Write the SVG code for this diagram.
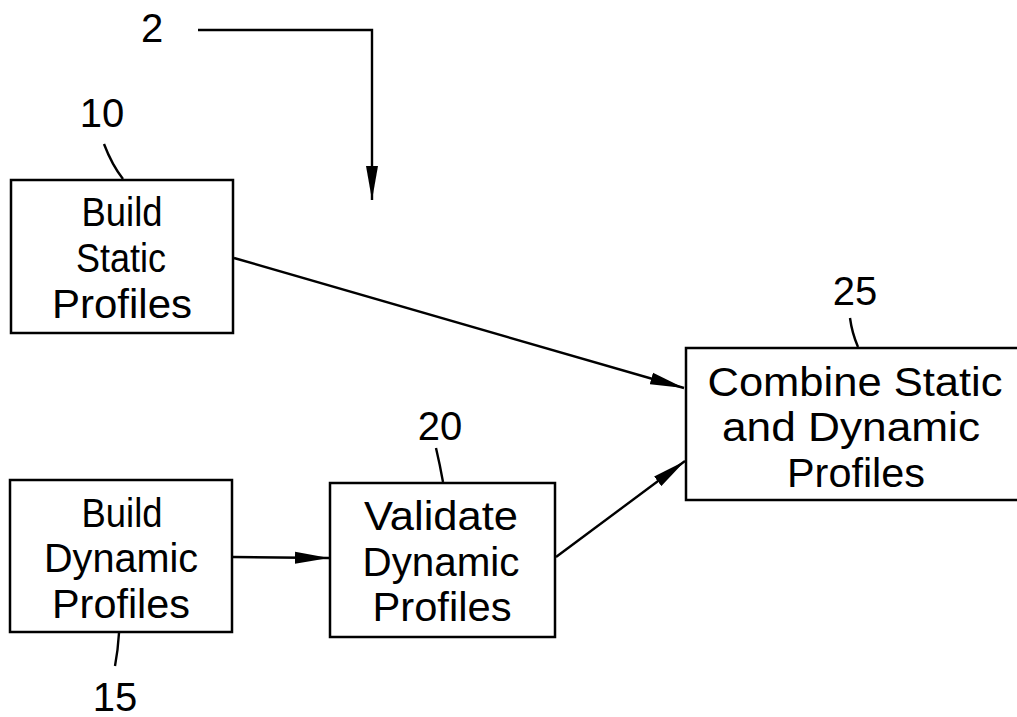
<svg xmlns="http://www.w3.org/2000/svg" width="1017" height="717" viewBox="0 0 1017 717">
<defs>
<style>
.box{fill:#fff;stroke:#000;stroke-width:2.5}
.t{font-family:"Liberation Sans",Arial,sans-serif;font-size:40px;fill:#000;text-anchor:middle}
.ln{fill:none;stroke:#000;stroke-width:2.4}
.ld{fill:none;stroke:#000;stroke-width:2.4}
</style>
<marker id="ah" markerWidth="36" markerHeight="14" refX="34" refY="7" orient="auto" markerUnits="userSpaceOnUse">
<path d="M0,1 L34,7 L0,13 Z" fill="#000"/>
</marker>
</defs>
<rect width="1017" height="717" fill="#fff"/>
<g id="connectors">
<path class="ln" d="M198,30 H372 V200" marker-end="url(#ah)"/>
<path class="ln" d="M234,258 L684,388" marker-end="url(#ah)"/>
<path class="ln" d="M233,557 L329,558" marker-end="url(#ah)"/>
<path class="ln" d="M556,557 L685,461" marker-end="url(#ah)"/>
</g>
<g id="label2"><text class="t" x="152" y="42">2</text></g>
<g id="n10">
<text class="t" x="102" y="127">10</text>
<path class="ld" d="M104,144 Q112,165 123,179"/>
<rect class="box" x="11" y="180" width="222" height="153"/>
<text class="t" x="122" y="226" textLength="81" lengthAdjust="spacingAndGlyphs">Build</text>
<text class="t" x="121" y="272" textLength="90" lengthAdjust="spacingAndGlyphs">Static</text>
<text class="t" x="122" y="318" textLength="140" lengthAdjust="spacingAndGlyphs">Profiles</text>
</g>
<g id="n15">
<rect class="box" x="10" y="480" width="222" height="152"/>
<text class="t" x="122" y="527" textLength="81" lengthAdjust="spacingAndGlyphs">Build</text>
<text class="t" x="121" y="572" textLength="154" lengthAdjust="spacingAndGlyphs">Dynamic</text>
<text class="t" x="121" y="618" textLength="138" lengthAdjust="spacingAndGlyphs">Profiles</text>
<path class="ld" d="M119,633 Q118,650 115,666"/>
<text class="t" x="115" y="711">15</text>
</g>
<g id="n20">
<text class="t" x="440" y="440">20</text>
<path class="ld" d="M436,448 Q440,465 443,482"/>
<rect class="box" x="330" y="483" width="225" height="154"/>
<text class="t" x="441" y="530" textLength="154" lengthAdjust="spacingAndGlyphs">Validate</text>
<text class="t" x="441" y="576" textLength="157" lengthAdjust="spacingAndGlyphs">Dynamic</text>
<text class="t" x="442" y="621" textLength="139" lengthAdjust="spacingAndGlyphs">Profiles</text>
</g>
<g id="n25">
<text class="t" x="855" y="305">25</text>
<path class="ld" d="M850,318 Q852,333 858,347"/>
<rect class="box" x="686" y="348" width="345" height="152"/>
<text class="t" x="855" y="396" textLength="295" lengthAdjust="spacingAndGlyphs">Combine  Static</text>
<text class="t" x="851" y="441" textLength="258" lengthAdjust="spacingAndGlyphs">and  Dynamic</text>
<text class="t" x="856" y="487" textLength="138" lengthAdjust="spacingAndGlyphs">Profiles</text>
</g>
</svg>
